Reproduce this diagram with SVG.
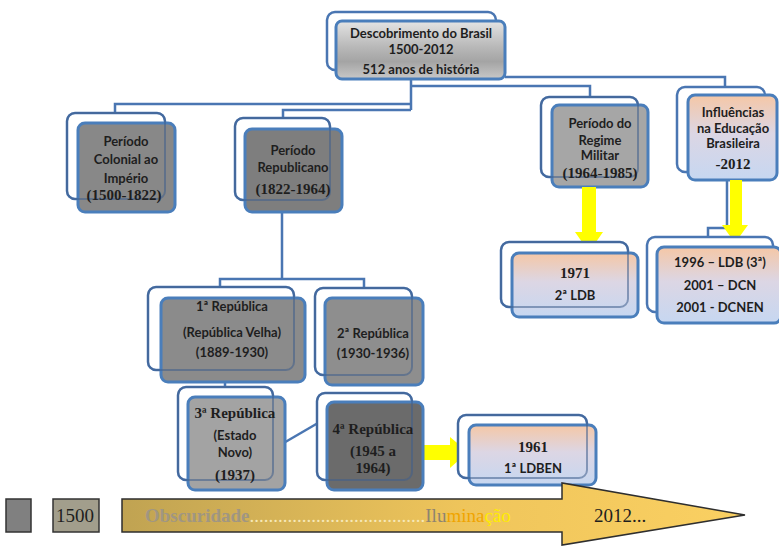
<svg xmlns="http://www.w3.org/2000/svg" width="779" height="546" viewBox="0 0 779 546">
  <defs>
    <linearGradient id="photo" x1="0" y1="0" x2="0" y2="1">
      <stop offset="0" stop-color="#e4e4e4"/>
      <stop offset="0.45" stop-color="#b8b8b8"/>
      <stop offset="0.7" stop-color="#a4a4a4"/>
      <stop offset="1" stop-color="#c8c8c8"/>
    </linearGradient>
    <linearGradient id="peach" x1="0" y1="0" x2="0" y2="1">
      <stop offset="0" stop-color="#f5c7a6"/>
      <stop offset="0.45" stop-color="#dcd6e4"/>
      <stop offset="1" stop-color="#c6d7f1"/>
    </linearGradient>
    <linearGradient id="era" x1="0" y1="0" x2="1" y2="0">
      <stop offset="0" stop-color="#c0a352"/>
      <stop offset="0.55" stop-color="#efc55b"/>
      <stop offset="1" stop-color="#fad062"/>
    </linearGradient>
    <style>
      .frame { fill: #ffffff; stroke: #4a76b2; stroke-width: 2.5; }
      .ghost { fill: none; stroke: #3f5f8c; stroke-width: 2; stroke-opacity: 0.55; }
      .box { stroke: #4a7ebb; stroke-width: 3; }
      .link { fill: none; stroke: #4a76b2; stroke-width: 2.5; }
      .hi { fill: #ffff00; }
      text { font-family: Lato, "Liberation Sans", sans-serif; font-size: 13px; font-weight: bold; fill: #1e1e1e; text-anchor: middle; }
      .s { font-family: "Liberation Serif", serif; font-size: 15px; font-weight: bold; }
      .leg { font-family: "Liberation Serif", serif; font-size: 19px; font-weight: normal; text-anchor: start; }
    </style>
  </defs>

  <rect width="779" height="546" fill="#ffffff"/>

  <!-- tree connectors -->
  <g id="connectors">
    <path class="link" d="M411,78 V110 M411,104 H115 V113 M411,110 H283 V118 M411,86 H590 V97 M505,77 H725 V88"/>
    <path class="link" d="M282,212 V279 M220,288 V279 H364 V288"/>
    <path class="link" d="M302,378 H225 V388"/>
    <path class="link" d="M275,448 L318,423"/>
    <path class="link" d="M727,180 V228 H708 V237"/>
  </g>

  <!-- root -->
  <g id="root">
    <rect class="frame" x="327" y="12" width="169" height="58" rx="8"/>
    <rect class="box" x="336" y="21" width="169" height="58" rx="6" fill="url(#photo)"/>
    <text x="421" y="38">Descobrimento do Brasil</text>
    <text x="421" y="54">1500-2012</text>
    <text x="421" y="74">512 anos de história</text>
  </g>

  <g id="colonial">
    <rect class="frame" x="67" y="113" width="98" height="86" rx="8"/>
    <rect class="box" x="78" y="123" width="97" height="89" rx="7" fill="#888888"/>
    <rect class="ghost" x="67" y="113" width="98" height="86" rx="8"/>
    <text x="126" y="146">Período</text>
    <text x="126" y="164">Colonial ao</text>
    <text x="126" y="183">Império</text>
    <text class="s" x="124" y="200">(1500-1822)</text>
  </g>

  <g id="republicano">
    <rect class="frame" x="235" y="118" width="95" height="82" rx="8"/>
    <rect class="box" x="245" y="129" width="97" height="83" rx="7" fill="#7e7e7e"/>
    <rect class="ghost" x="235" y="118" width="95" height="82" rx="8"/>
    <text x="293" y="155">Período</text>
    <text x="293" y="172">Republicano</text>
    <text class="s" x="293" y="194">(1822-1964)</text>
  </g>

  <g id="militar">
    <rect class="frame" x="541" y="97" width="97" height="80" rx="8"/>
    <rect class="box" x="552" y="105" width="96" height="82" rx="7" fill="#a6a6a6"/>
    <rect class="ghost" x="541" y="97" width="97" height="80" rx="8"/>
    <text x="600" y="128">Período do</text>
    <text x="600" y="145">Regime</text>
    <text x="600" y="160">Militar</text>
    <text class="s" x="600" y="178">(1964-1985)</text>
  </g>

  <g id="influencias">
    <rect class="frame" x="677" y="87" width="88" height="85" rx="8"/>
    <rect class="box" x="688" y="95" width="89" height="85" rx="7" fill="url(#peach)"/>
    <text x="733" y="117">Influências</text>
    <text x="733" y="133">na Educação</text>
    <text x="733" y="148">Brasileira</text>
    <text class="s" x="733" y="169">-2012</text>
  </g>

  <!-- yellow pointers -->
  <g id="pointers">
    <polygon class="hi" points="582,187 596,187 596,232 603,232 589,252 575,232 582,232"/>
    <polygon class="hi" points="730,180 742,180 742,225 748,225 735,243 722,225 730,225"/>
    <polygon class="hi" points="410,445 450,445 450,437 468,452 450,468 450,460 410,460"/>
  </g>

  <g id="ldb1971">
    <rect class="frame" x="501" y="242" width="127" height="65" rx="8"/>
    <rect class="box" x="512" y="253" width="126" height="64" rx="7" fill="url(#peach)"/>
    <rect class="ghost" x="501" y="242" width="127" height="65" rx="8" stroke-opacity="0.3"/>
    <text class="s" x="575" y="278">1971</text>
    <text x="575" y="300">2ª LDB</text>
  </g>

  <g id="ldb1996">
    <rect class="frame" x="647" y="237" width="126" height="75" rx="8"/>
    <rect class="box" x="657" y="247" width="124" height="76" rx="7" fill="url(#peach)"/>
    <text x="720" y="267">1996 – LDB (3ª)</text>
    <text x="720" y="290">2001 – DCN</text>
    <text x="720" y="312">2001 - DCNEN</text>
  </g>

  <g id="republica1">
    <rect class="frame" x="148" y="287" width="146" height="83" rx="8"/>
    <rect class="box" x="161" y="298" width="144" height="84" rx="7" fill="#8b8b8b"/>
    <rect class="ghost" x="148" y="287" width="146" height="83" rx="8"/>
    <text x="232" y="311">1ª República</text>
    <text x="232" y="337">(República Velha)</text>
    <text x="232" y="357">(1889-1930)</text>
  </g>

  <g id="republica2">
    <rect class="frame" x="315" y="288" width="97" height="87" rx="8"/>
    <rect class="box" x="325" y="298" width="98" height="87" rx="7" fill="#8e8e8e"/>
    <rect class="ghost" x="315" y="288" width="97" height="87" rx="8"/>
    <text x="373" y="338">2ª República</text>
    <text x="373" y="358">(1930-1936)</text>
  </g>

  <g id="republica3">
    <rect class="frame" x="178" y="387" width="95" height="93" rx="8"/>
    <rect class="box" x="188" y="397" width="97" height="93" rx="7" fill="#a3a3a3"/>
    <rect class="ghost" x="178" y="387" width="95" height="93" rx="8"/>
    <text class="s" x="235" y="418">3ª República</text>
    <text x="235" y="440">(Estado</text>
    <text x="235" y="457">Novo)</text>
    <text class="s" x="235" y="480">(1937)</text>
  </g>

  <g id="republica4">
    <rect class="frame" x="317" y="393" width="95" height="87" rx="8"/>
    <rect class="box" x="327" y="402" width="96" height="88" rx="7" fill="#6b6b6b"/>
    <rect class="ghost" x="317" y="393" width="95" height="87" rx="8"/>
    <text class="s" x="373" y="434">4ª República</text>
    <text class="s" x="373" y="456">(1945 a</text>
    <text class="s" x="373" y="473">1964)</text>
  </g>

  <g id="ldben1961">
    <rect class="frame" x="458" y="415" width="129" height="63" rx="8"/>
    <rect class="box" x="469" y="425" width="127" height="60" rx="7" fill="url(#peach)"/>
    <rect class="ghost" x="458" y="415" width="129" height="63" rx="8" stroke-opacity="0.3"/>
    <text class="s" x="533" y="452">1961</text>
    <text x="533" y="473">1ª LDBEN</text>
  </g>

  <!-- timeline legend -->
  <g id="legend">
    <rect x="6" y="499" width="25" height="33" fill="#808080" stroke="#333333" stroke-width="1.5"/>
    <rect x="53" y="499" width="46" height="33" fill="#a29e8c" stroke="#333333" stroke-width="1.5"/>
    <text class="leg" x="56" y="522" fill="#222222">1500</text>
  </g>

  <g id="timeline">
    <polygon points="122,499 562,499 562,483 745,515 562,545 562,532 122,532" fill="url(#era)" stroke="#2e2e2e" stroke-width="1.5"/>
    <text class="leg" x="145" y="522"><tspan fill="#a09682" font-weight="bold">Obscuridade</tspan><tspan fill="#f6e8b8">.....................................</tspan><tspan fill="#8e8470">Ilu</tspan><tspan fill="#f0a400">mina</tspan><tspan fill="#ffec00">ção</tspan></text>
    <text class="leg" x="594" y="522" fill="#222222">2012...</text>
  </g>
</svg>
